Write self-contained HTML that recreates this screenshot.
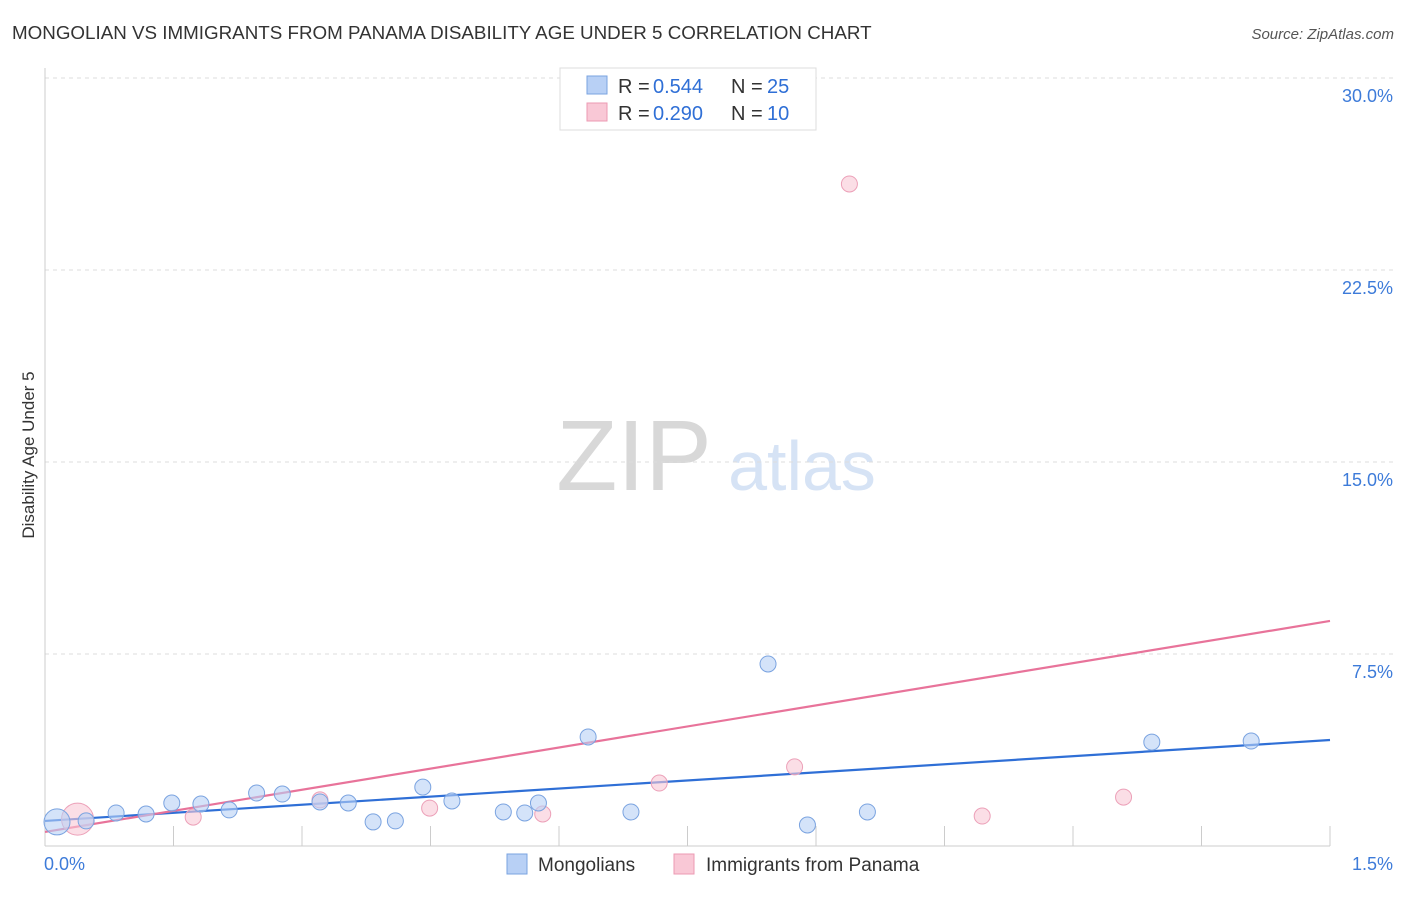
<!DOCTYPE html>
<html><head><meta charset="utf-8"><style>
body{margin:0;background:#fff;font-family:"Liberation Sans",sans-serif;}
svg text{font-family:"Liberation Sans",sans-serif;}
</style></head><body>
<svg id="chart" width="1406" height="892">
<text x="12" y="39" font-size="18.8" fill="#333">MONGOLIAN VS IMMIGRANTS FROM PANAMA DISABILITY AGE UNDER 5 CORRELATION CHART</text>
<text x="1394" y="39" font-size="15" fill="#555" font-style="italic" text-anchor="end">Source: ZipAtlas.com</text>
<text x="34" y="455" font-size="17" fill="#333" text-anchor="middle" transform="rotate(-90 34 455)">Disability Age Under 5</text>
<g><text x="634" y="490" font-size="100" fill="#d8d8d8" font-family="Liberation Serif" text-anchor="middle">ZIP</text><text x="802" y="490" font-size="70" fill="#d6e3f5" text-anchor="middle">atlas</text></g>
<g id="grid"></g><g id="lines"></g><g id="points"></g>
<g>
<rect x="560" y="68" width="256" height="62" fill="#fff" stroke="#ddd"/>
<rect x="587" y="76" width="20" height="18" fill="#b8d0f5" stroke="#7aa3e0"/>
<text x="618" y="93" font-size="20" fill="#333">R = </text>
<text x="653" y="93" font-size="20" fill="#2f6fd6">0.544</text>
<text x="731" y="93" font-size="20" fill="#333">N = </text>
<text x="767" y="93" font-size="20" fill="#2f6fd6">25</text>
<rect x="587" y="103" width="20" height="18" fill="#f9c8d6" stroke="#ec9ab3"/>
<text x="618" y="120" font-size="20" fill="#333">R = </text>
<text x="653" y="120" font-size="20" fill="#2f6fd6">0.290</text>
<text x="731" y="120" font-size="20" fill="#333">N = </text>
<text x="767" y="120" font-size="20" fill="#2f6fd6">10</text>
</g>
<g>
<rect x="507" y="854" width="20" height="20" fill="#b8d0f5" stroke="#7aa3e0"/>
<text x="538" y="871" font-size="19" fill="#333">Mongolians</text>
<rect x="674" y="854" width="20" height="20" fill="#f9c8d6" stroke="#ec9ab3"/>
<text x="706" y="871" font-size="19" fill="#333">Immigrants from Panama</text>
</g>
</svg>
<script>
const yTicks=[7.5,15,22.5,30];
const yTickLabels=["7.5%","15.0%","22.5%","30.0%"];
const xTickLabels=["0.0%","1.5%"];
const mongX=[0.014,0.048,0.083,0.118,0.148,0.182,0.215,0.247,0.277,0.321,0.354,0.383,0.409,0.441,0.475,0.535,0.560,0.576,0.634,0.684,0.844,0.890,0.960,1.292,1.408];
const mongY=[0.94,0.98,1.29,1.25,1.68,1.64,1.41,2.07,2.03,1.72,1.68,0.94,0.98,2.30,1.76,1.33,1.29,1.68,4.26,1.33,7.11,0.82,1.33,4.06,4.10];
const panX=[0.038,0.173,0.321,0.449,0.581,0.717,0.875,0.939,1.094,1.259];
const panY=[1.05,1.13,1.80,1.48,1.25,2.46,3.09,25.86,1.17,1.91];
const mongTrend=[0.98,4.14];
const panTrend=[0.55,8.79];
const X0=45,X1=1330,Y0=846,PPY=192/7.5;
const sx=v=>X0+v/1.5*(X1-X0), sy=v=>Y0-v*PPY;
const NS="http://www.w3.org/2000/svg";
function mk(t,a,p){const e=document.createElementNS(NS,t);for(const k in a)e.setAttribute(k,a[k]);p.appendChild(e);return e;}
const g=document.getElementById('grid');
yTicks.forEach((v,i)=>{
 const l=mk('line',{x1:X0,x2:1394,y1:sy(v),y2:sy(v),stroke:'#ddd','stroke-dasharray':'4 4'},g);
 
 
 const t=mk('text',{x:1393,y:sy(v)+24,'font-size':18,fill:'#3d7bd9','text-anchor':'end'},g);t.textContent=yTickLabels[i];
 
 
});
const ax=mk('line',{x1:X0,x2:X0,y1:68,y2:Y0,stroke:'#ccc'},g);


const bx=mk('line',{x1:X0,x2:X1,y1:Y0,y2:Y0,stroke:'#ccc'},g);


for(let i=0;i<=10;i++){const x=sx(i*0.15);const t=mk('line',{x1:x,x2:x,y1:826,y2:Y0,stroke:'#ccc'},g);
 
 }
[0,1.5].forEach((v,i)=>{const t=mk('text',{x:i?1393:44,y:870,'font-size':18,fill:'#3d7bd9','text-anchor':i?'end':'start'},g);t.textContent=xTickLabels[i];
 
 });
const L=document.getElementById('lines');
const l1=mk('line',{x1:sx(0),y1:sy(mongTrend[0]),x2:sx(1.5),y2:sy(mongTrend[1]),stroke:'#2f6fd6','stroke-width':2.2},L);


const l2=mk('line',{x1:sx(0),y1:sy(panTrend[0]),x2:sx(1.5),y2:sy(panTrend[1]),stroke:'#e8739a','stroke-width':2.2},L);


const P=document.getElementById('points');
panX.forEach((x,i)=>{const c=mk('circle',{cx:sx(x),cy:sy(panY[i]),r:i==0?16:8,fill:'rgba(249,200,214,0.6)',stroke:'#eca0b8'},P);
 
 });
mongX.forEach((x,i)=>{const c=mk('circle',{cx:sx(x),cy:sy(mongY[i]),r:i==0?13:8,fill:'rgba(184,208,245,0.6)',stroke:'#7aa3e0'},P);
 
 });
</script>
</body></html>
